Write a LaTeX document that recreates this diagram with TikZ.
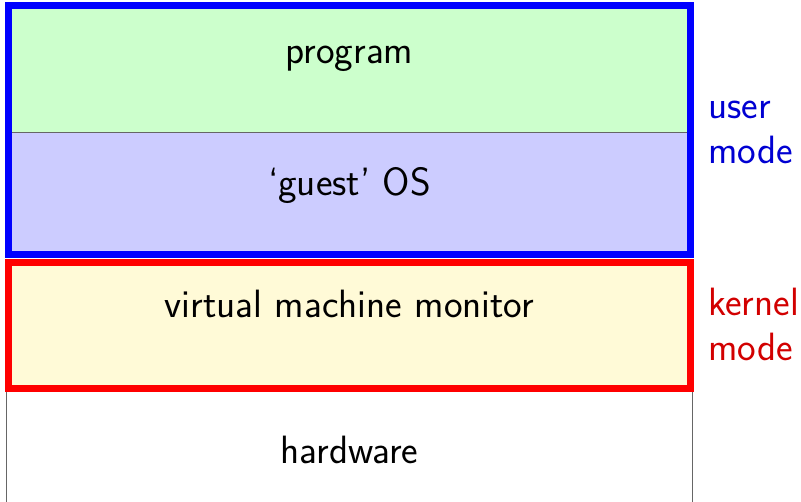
\documentclass[tikz,border=0pt]{standalone}
\usepackage{tikz}
\usepackage{xcolor}

\definecolor{progfill}{RGB}{204,255,204}
\definecolor{osfill}{RGB}{204,204,255}
\definecolor{vmmfill}{RGB}{255,250,215}
\definecolor{userblue}{RGB}{0,0,210}
\definecolor{kernred}{RGB}{210,0,0}

\begin{document}
\begin{tikzpicture}[x=1pt,y=-1pt,font=\sffamily\fontsize{39.5}{45}\selectfont,
  layer/.style={draw=black!60,line width=1pt},
  modebox/.style={line width=7pt},
  layertext/.style={anchor=base},
  modelabel/.style={anchor=base west,align=left,inner sep=0pt}]
  \useasboundingbox (0,0) rectangle (801,501);
  % layers
  \fill[progfill] (8.5,5.5) rectangle (690.5,132);
  \fill[osfill] (8.5,132) rectangle (690.5,254);
  \fill[vmmfill] (8.5,262.5) rectangle (690.5,388.5);
  \draw[layer] (8.5,132) -- (690.5,132);
  \draw[layer] (6.5,388.5) -- (6.5,505) (692.5,388.5) -- (692.5,505);
  \draw[modebox,blue] (8.5,5.5) rectangle (690.5,254);
  \draw[modebox,red] (8.5,262.5) rectangle (690.5,388.5);
  % texts
  \node[layertext] (prog) at (349.5,63) {program};
  \node[layertext] (guest) at (349.5,195) {`guest' OS};
  \node[layertext] (vmm) at (349.5,317) {virtual machine monitor};
  \node[layertext] (hw) at (349.5,463) {hardware};
  \node[modelabel,text=userblue] (user) at (708,163) {user\\mode};
  \node[modelabel,text=kernred] (kern) at (708,360) {kernel\\mode};
\end{tikzpicture}
\end{document}
